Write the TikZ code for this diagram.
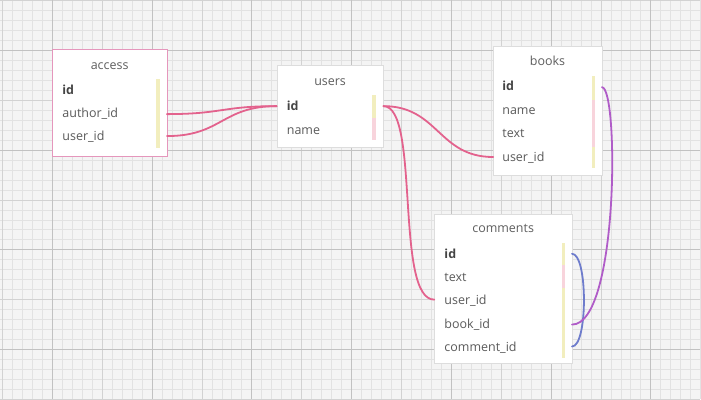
\documentclass[tikz,border=0pt]{standalone}
\usepackage{fontspec}
\setmainfont{Open Sans}
\definecolor{bggrey}{HTML}{F4F4F4}
\definecolor{minorline}{HTML}{E2E2E2}
\definecolor{midline}{HTML}{D2D2D2}
\definecolor{majline}{HTML}{C2C2C2}
\definecolor{boxborder}{HTML}{DDDDDD}
\definecolor{selborder}{HTML}{E596BC}
\definecolor{titlegrey}{HTML}{5E5E5E}
\definecolor{textgrey}{HTML}{5A5A5A}
\definecolor{keygrey}{HTML}{444444}
\definecolor{keyyel}{HTML}{F2EEBE}
\definecolor{fldpink}{HTML}{F8D4DC}
\definecolor{relpink}{HTML}{E3628D}
\definecolor{relpurple}{HTML}{B05CC8}
\definecolor{relblue}{HTML}{6E7CCC}
\begin{document}
\begin{tikzpicture}[x=1pt,y=-1pt,
  tbl/.style={draw=boxborder, fill=white, line width=0.8pt, inner sep=0pt, anchor=north west},
  seltbl/.style={tbl, draw=selborder, line width=1pt},
  ttl/.style={font=\fontsize{12.5}{14}\selectfont, text=titlegrey, anchor=base, inner sep=0pt},
  fld/.style={font=\fontsize{12.5}{14}\selectfont, text=textgrey, anchor=base west, inner sep=0pt},
  keyfld/.style={font=\fontsize{12.5}{14}\selectfont\bfseries, text=keygrey, anchor=base west, inner sep=0pt},
  rel/.style={line width=1.8pt, draw=relpink, line cap=round},
  relp/.style={rel, draw=relpurple},
  relb/.style={rel, draw=relblue}]
% background and grid
\fill[bggrey] (0,0) rectangle (701,400);
\foreach \x in {2,12,...,702} \draw[minorline, line width=0.7pt] (\x,0) -- (\x,400);
\foreach \y in {0,10,...,400} \draw[minorline, line width=0.7pt] (0,\y) -- (701,\y);
\foreach \x in {2,102,...,602} \draw[midline, line width=0.8pt] (\x,0) -- (\x,400);
\foreach \y in {0,100,...,400} \draw[midline, line width=0.8pt] (0,\y) -- (701,\y);
\foreach \x in {52,152,...,652} \draw[majline, line width=0.8pt] (\x,0) -- (\x,400);
\foreach \y in {50,150,...,350} \draw[majline, line width=0.8pt] (0,\y) -- (701,\y);
\useasboundingbox (0,0) rectangle (701,400);

% ---------- access ----------
\node[seltbl, minimum width=115pt, minimum height=107pt] (access) at (52,49) {};
\node[ttl] (access-t) at (109.5,69.5) {access};
\node[keyfld] (access-id) at (62,94.5) {id};
\node[fld] (access-author) at (62,117.5) {author\_id};
\node[fld] (access-user) at (62,140.5) {user\_id};
\fill[keyyel] (156,79) rectangle (159.5,148);
\coordinate (access-author-r) at (167,114);
\coordinate (access-user-r) at (167,136);

% ---------- users ----------
\node[tbl, minimum width=107pt, minimum height=82pt] (users) at (277,65) {};
\node[ttl] (users-t) at (330.5,85.5) {users};
\node[keyfld] (users-id) at (287,110.5) {id};
\node[fld] (users-name) at (287,134.5) {name};
\fill[keyyel] (373,95) rectangle (376.5,118);
\fill[fldpink] (373,118) rectangle (376.5,140);
\coordinate (users-id-l) at (277,106);
\coordinate (users-id-r) at (384,106);

% ---------- books ----------
\node[tbl, minimum width=109pt, minimum height=129pt] (books) at (494,46) {};
\node[ttl] (books-t) at (548.5,65.5) {books};
\node[keyfld] (books-id) at (503,90.5) {id};
\node[fld] (books-name) at (503,114.5) {name};
\node[fld] (books-text) at (503,137.5) {text};
\node[fld] (books-user) at (503,161.5) {user\_id};
\fill[keyyel] (593,76) rectangle (596.5,100);
\fill[fldpink] (593,100) rectangle (596.5,147);
\fill[keyyel] (593,147) rectangle (596.5,168);
\coordinate (books-id-r) at (603,87);
\coordinate (books-user-l) at (494,157);

% ---------- comments ----------
\node[tbl, minimum width=138pt, minimum height=150pt] (comments) at (435,214) {};
\node[ttl] (comments-t) at (504,232.5) {comments};
\node[keyfld] (comments-id) at (445,258.5) {id};
\node[fld] (comments-text) at (445,281.5) {text};
\node[fld] (comments-user) at (445,304.5) {user\_id};
\node[fld] (comments-book) at (445,328.5) {book\_id};
\node[fld] (comments-comment) at (445,351.5) {comment\_id};
\fill[keyyel] (563,243) rectangle (566.5,265);
\fill[fldpink] (563,265) rectangle (566.5,288);
\fill[keyyel] (563,288) rectangle (566.5,358);
\coordinate (comments-id-r) at (573,254);
\coordinate (comments-user-l) at (435,300);
\coordinate (comments-book-r) at (573,325);
\coordinate (comments-comment-r) at (573,347);

% ---------- relations ----------
\draw[rel] (access-author-r) .. controls +(55,0) and +(-55,0) .. (users-id-l);
\draw[rel] (access-user-r) .. controls +(55,0) and +(-55,0) .. (users-id-l);
\draw[rel] (users-id-r) .. controls +(55,0) and +(-55,0) .. (books-user-l);
\draw[rel] (users-id-r) .. controls +(37,0) and +(-40,0) .. (comments-user-l);
\draw[relb] (comments-id-r) .. controls +(16,0) and +(16,0) .. (comments-comment-r);
\draw[relp] (books-id-r) .. controls +(17,0) and +(47,0) .. (comments-book-r);
\end{tikzpicture}
\end{document}
